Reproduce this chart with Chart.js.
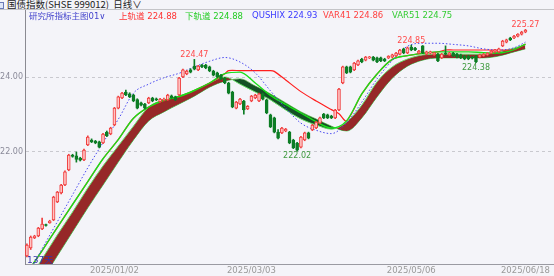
<!DOCTYPE html>
<html lang="zh-CN">
<head>
<meta charset="UTF-8">
<title>国债指数 日线</title>
<script src="https://cdn.jsdelivr.net/npm/chart.js"></script>
<style>
    body {
        margin: 0;
        width: 554px;
        height: 276px;
        overflow: hidden;
        position: relative;
        background: #f4f4f9;
        font-family: "DejaVu Sans", "Noto Sans CJK SC", sans-serif;
    }
    #kline { position: absolute; left: 0; top: 0; }
    .hdr {
        position: absolute; top: -1px; left: 7px;
        font-family: "Noto Sans CJK SC", sans-serif;
        font-size: 9.5px; line-height: 11px; color: #222; white-space: nowrap;
    }
    .ico { position: absolute; left: -3px; top: 2px; width: 5px; height: 5px; border: 1px solid #6a7ab8; background: #dfe6f7; }
    .topline { position: absolute; left: 0; top: 9px; width: 554px; height: 1px; background: #c4c4c8; }
    .lg {
        position: absolute; top: 10px;
        font-size: 8.5px; line-height: 11px; white-space: nowrap;
    }
    .lg b { font-weight: normal; font-family: "Noto Sans CJK SC", sans-serif; }
    .days { position: absolute; left: 27px; top: 253px; font-size: 9px; color: #3333aa; }
</style>
</head>
<body>
<div class="ico"></div>
<div class="hdr">国债指数(SHSE 999012) &nbsp;日线∨</div>
<div class="topline"></div>
<canvas id="kline" width="554" height="276"></canvas>
<div class="lg" style="left:29px;color:#4444cc"><b>研究所指标主图</b>01∨</div>
<div class="lg" id="lgUp" style="left:119px;color:#ff3030"></div>
<div class="lg" id="lgDn" style="left:185px;color:#22cc22"></div>
<div class="lg" id="lgQ" style="left:252px;color:#3a3aff"></div>
<div class="lg" id="lgV41" style="left:323px;color:#ff4040"></div>
<div class="lg" id="lgV51" style="left:392px;color:#33cc33"></div>
<div class="days">137天</div>

<script>
// daily bars, oldest first
const open = [
    219.23,219.44,219.71,219.76,219.95,220.06,220.11,220.19,220.67,220.91,
    221.12,221.52,221.92,221.90,221.84,221.79,222.19,222.32,222.29,222.27,
    222.24,222.53,222.48,222.72,223.17,223.44,223.60,223.55,223.52,223.40,
    223.31,223.28,223.31,223.44,223.42,223.34,223.38,223.39,223.50,223.47,
    223.52,224.00,224.08,224.19,224.29,224.19,224.32,224.32,224.27,224.16,
    224.11,224.05,223.97,223.84,223.60,223.17,223.28,223.36,223.15,223.36,
    223.44,223.36,223.55,223.39,222.99,222.91,222.53,222.51,222.56,222.53,
    222.32,222.24,222.13,222.32,222.51,222.59,222.64,222.77,223.01,222.99,
    222.96,222.91,223.12,223.84,224.27,224.27,224.19,224.32,224.48,224.45,
    224.51,224.53,224.51,224.51,224.48,224.51,224.53,224.56,224.61,224.75,
    224.64,224.80,224.77,224.64,224.83,224.61,224.64,224.59,224.61,224.51,
    224.64,224.59,224.64,224.61,224.59,224.56,224.56,224.53,224.56,224.53,
    224.56,224.59,224.64,224.67,224.67,224.83,224.93,225.04,225.04,225.09,
    225.14,225.20
];
const high = [
    219.55,219.76,219.78,219.99,220.24,220.08,220.18,220.82,220.95,221.14,
    221.50,221.94,221.94,222.00,221.86,222.08,222.43,222.35,222.31,222.29,
    222.50,222.56,222.66,223.19,223.49,223.59,223.65,223.58,223.54,223.42,
    223.33,223.30,223.46,223.46,223.44,223.43,223.44,223.54,223.52,223.49,
    223.99,224.21,224.18,224.22,224.47,224.31,224.34,224.34,224.29,224.18,
    224.13,224.07,223.99,223.86,223.62,223.35,223.43,223.38,223.24,223.51,
    223.54,223.57,223.57,223.41,223.01,222.93,222.60,222.66,222.63,222.55,
    222.34,222.26,222.42,222.53,222.53,222.74,222.82,222.93,223.03,223.01,
    222.98,223.14,223.70,224.29,224.29,224.29,224.39,224.45,224.50,224.55,
    224.55,224.55,224.53,224.53,224.50,224.57,224.61,224.66,224.74,224.77,
    224.80,224.85,224.79,224.71,224.84,224.69,224.69,224.66,224.63,224.63,
    224.83,224.66,224.66,224.63,224.61,224.58,224.58,224.55,224.58,224.61,
    224.63,224.65,224.71,224.74,224.77,224.98,225.01,225.06,225.11,225.16,
    225.22,225.27
];
const low = [
    219.20,219.40,219.69,219.74,219.93,220.02,220.10,220.17,220.65,220.88,
    221.10,221.50,221.86,221.73,221.76,221.77,222.17,222.25,222.22,222.11,
    222.22,222.41,222.46,222.70,223.15,223.42,223.50,223.45,223.34,223.15,
    223.23,223.15,223.29,223.34,223.37,223.32,223.36,223.37,223.43,223.37,
    223.50,223.98,224.06,224.11,224.19,224.17,224.25,224.22,224.14,224.03,
    223.98,223.93,223.82,223.55,223.18,223.15,223.26,223.01,223.13,223.34,
    223.42,223.34,223.39,223.02,222.65,222.51,222.35,222.49,222.54,222.22,
    222.09,222.02,222.11,222.30,222.35,222.57,222.62,222.75,222.89,222.89,
    222.89,222.89,223.10,223.82,224.09,224.11,224.17,224.30,224.38,224.43,
    224.49,224.43,224.38,224.41,224.41,224.49,224.51,224.54,224.59,224.62,
    224.62,224.70,224.70,224.62,224.62,224.59,224.62,224.57,224.41,224.49,
    224.59,224.57,224.54,224.51,224.49,224.46,224.46,224.48,224.38,224.51,
    224.54,224.57,224.62,224.65,224.65,224.81,224.91,224.97,225.02,225.07,
    225.12,225.18
];
const close = [
    219.52,219.73,219.76,219.97,220.08,220.04,220.16,220.80,220.93,221.12,
    221.47,221.92,221.88,221.80,221.78,222.05,222.40,222.27,222.24,222.13,
    222.48,222.43,222.64,223.17,223.47,223.57,223.52,223.47,223.36,223.17,
    223.25,223.17,223.44,223.36,223.39,223.41,223.40,223.52,223.45,223.39,
    223.97,224.19,224.16,224.13,224.21,224.29,224.27,224.24,224.16,224.05,
    224.00,223.95,223.84,223.57,223.20,223.33,223.41,223.12,223.22,223.49,
    223.52,223.55,223.41,223.04,222.67,222.53,222.37,222.64,222.61,222.24,
    222.11,222.05,222.40,222.51,222.37,222.72,222.80,222.91,222.91,222.91,
    222.91,223.12,223.68,224.27,224.11,224.13,224.37,224.43,224.40,224.53,
    224.53,224.45,224.40,224.43,224.43,224.55,224.59,224.64,224.72,224.64,
    224.78,224.72,224.72,224.69,224.64,224.67,224.67,224.64,224.43,224.61,
    224.61,224.64,224.56,224.53,224.51,224.48,224.48,224.50,224.40,224.59,
    224.61,224.63,224.69,224.72,224.75,224.96,224.99,224.99,225.09,225.14,
    225.20,225.25
];

// indicator lines, read at these bar positions
const lineIdx = [0,4,8,12,16,20,24,28,32,36,40,44,48,52,56,60,64,68,72,76,80,84,88,92,96,100,104,108,112,116,120,124,128,131];
const railDown = [
    218.77,219.37,219.99,220.60,221.21,221.82,222.33,222.90,223.20,223.38,
    223.48,223.64,223.84,224.09,224.13,223.84,223.51,223.27,223.04,222.81,
    222.64,222.83,223.55,224.08,224.47,224.57,224.63,224.67,224.67,224.67,
    224.65,224.64,224.73,224.88
];
const qushix = [
    218.69,219.42,220.14,220.86,221.58,222.25,222.87,223.57,223.81,223.98,
    224.10,224.27,224.42,224.52,224.40,224.11,223.63,223.17,222.77,222.58,
    222.49,222.78,223.33,223.95,224.44,224.82,224.90,224.90,224.87,224.83,
    224.75,224.72,224.78,224.93
];
const var41 = [
    218.51,219.15,219.79,220.40,221.04,221.63,222.16,222.69,223.20,223.39,
    223.49,223.65,223.84,224.00,223.81,223.60,223.39,223.12,222.88,222.72,
    222.61,222.80,223.25,223.87,224.27,224.48,224.59,224.61,224.61,224.61,
    224.61,224.67,224.77,224.86
];
const var51 = [
    217.97,218.59,219.23,219.87,220.51,221.12,221.73,222.32,222.83,223.07,
    223.28,223.49,223.73,223.89,223.95,223.76,223.55,223.31,223.07,222.88,
    222.69,222.56,222.91,223.47,223.97,224.29,224.45,224.51,224.51,224.51,
    224.51,224.56,224.67,224.75
];
const railUpIdx = [0,4,8,12,16,20,24,28,32,36,40,44,48,52,53,56,60,64,65,68,72,76,80,82,84,88,92,96,100,104,108,110,112,116,120,124,128,131];
const railUp = [
    218.77,219.37,219.99,220.60,221.21,221.82,222.33,222.90,223.20,223.38,
    223.48,223.64,223.84,224.09,224.17,224.17,224.17,224.17,224.15,223.92,
    223.61,223.36,223.13,223.02,222.83,223.55,224.08,224.47,224.57,224.63,
    224.67,224.72,224.72,224.72,224.72,224.72,224.73,224.88
];

const tickIdx = [23, 59, 101, 131];
const tickText = ['2025/01/02', '2025/03/03', '2025/05/06', '2025/06/18'];
const yTicks = [222, 224];

// high / low marks
const markIdx = [44, 101, 131, 71, 118];
const markKind = ['high', 'high', 'high', 'low', 'low'];

const UP = '#f03c3c', UP_FILL = '#ffc4c4', DN = '#0d7d25';
const isUp = close.map((c, i) => c >= open[i]);
const pts = (idx, vals) => idx.map((x, k) => ({ x: x, y: vals[k] }));

function last(a) { return a[a.length - 1].toFixed(2); }
document.getElementById('lgUp').innerHTML = '<b>上轨道</b> ' + last(railUp);
document.getElementById('lgDn').innerHTML = '<b>下轨道</b> ' + last(railDown);
document.getElementById('lgQ').textContent = 'QUSHIX ' + last(qushix);
document.getElementById('lgV41').textContent = 'VAR41 ' + last(var41);
document.getElementById('lgV51').textContent = 'VAR51 ' + last(var51);

const markPlugin = {
    id: 'marks',
    afterDatasetsDraw(chart) {
        const { ctx, scales: { x, y } } = chart;
        ctx.save();
        ctx.font = '8px "DejaVu Sans"';
        ctx.textAlign = 'center';
        markIdx.forEach((i, k) => {
            const hi = markKind[k] === 'high';
            const v = hi ? high[i] : low[i];
            const px = x.getPixelForValue(i);
            const py = y.getPixelForValue(v);
            ctx.textBaseline = hi ? 'bottom' : 'top';
            ctx.fillStyle = hi ? '#ff4a4a' : '#3f9a3f';
            ctx.fillText(v.toFixed(2), px, hi ? py : py + 1);
        });
        ctx.restore();
    }
};

const lineBase = { type: 'line', pointRadius: 0, borderWidth: 1, cubicInterpolationMode: 'monotone', fill: false };

new Chart(document.getElementById('kline'), {
    type: 'bar',
    data: {
        datasets: [
            {
                // bodies
                data: open.map((o, i) => ({ x: i, y: [o, close[i]] })),
                backgroundColor: isUp.map(u => u ? UP_FILL : DN),
                borderColor: isUp.map(u => u ? UP : DN),
                borderWidth: 1,
                borderSkipped: false,
                barThickness: 3,
                minBarLength: 1,
                grouped: false,
                order: 0
            },
            {
                // wicks
                data: low.map((l, i) => ({ x: i, y: [l, high[i]] })),
                backgroundColor: isUp.map(u => u ? UP : DN),
                barThickness: 1,
                grouped: false,
                order: 1
            },
            Object.assign({}, lineBase, {
                data: pts(lineIdx, qushix), borderColor: '#4848f0', borderDash: [1.5, 2], order: 2
            }),
            Object.assign({}, lineBase, {
                data: pts(lineIdx, railDown), borderColor: '#18e018', borderWidth: 1.4, order: 3
            }),
            Object.assign({}, lineBase, {
                data: pts(railUpIdx, railUp), borderColor: '#ff1e1e', borderWidth: 1.2, order: 4,
                cubicInterpolationMode: 'default', tension: 0.3
            }),
            Object.assign({}, lineBase, {
                data: pts(lineIdx, var41), borderColor: '#66dd66', order: 5,
                fill: { target: '+1', above: 'rgb(150,40,40)', below: 'rgb(20,80,38)' }
            }),
            Object.assign({}, lineBase, {
                data: pts(lineIdx, var51), borderColor: '#66dd66', order: 6
            })
        ]
    },
    options: {
        responsive: false,
        animation: false,
        layout: { padding: { top: 10, right: 0, left: 0, bottom: 0 } },
        plugins: { legend: { display: false }, tooltip: { enabled: false } },
        scales: {
            x: {
                type: 'linear',
                min: -0.5,
                max: 138.5,
                offset: false,
                grid: { display: false, drawTicks: false },
                border: { color: '#9a9aa2' },
                afterBuildTicks: s => { s.ticks = tickIdx.map(v => ({ value: v })); },
                afterFit: s => { s.height = 12; },
                ticks: {
                    callback: v => tickText[tickIdx.indexOf(v)],
                    color: '#9a9a9a',
                    font: { family: 'DejaVu Sans', size: 8.5 },
                    maxRotation: 0,
                    autoSkip: false,
                    padding: 2
                }
            },
            y: {
                min: 219.013,
                max: 225.787,
                afterBuildTicks: s => { s.ticks = yTicks.map(v => ({ value: v })); },
                afterFit: s => { s.width = 25; },
                grid: { color: '#c9c9cf', drawTicks: false },
                border: { color: '#8a8a92', dash: [3, 3] },
                ticks: {
                    callback: v => v.toFixed(2),
                    color: '#8a8a99',
                    font: { family: 'DejaVu Sans', size: 8 },
                    padding: 2
                }
            }
        }
    },
    plugins: [markPlugin]
});
</script>
</body>
</html>
